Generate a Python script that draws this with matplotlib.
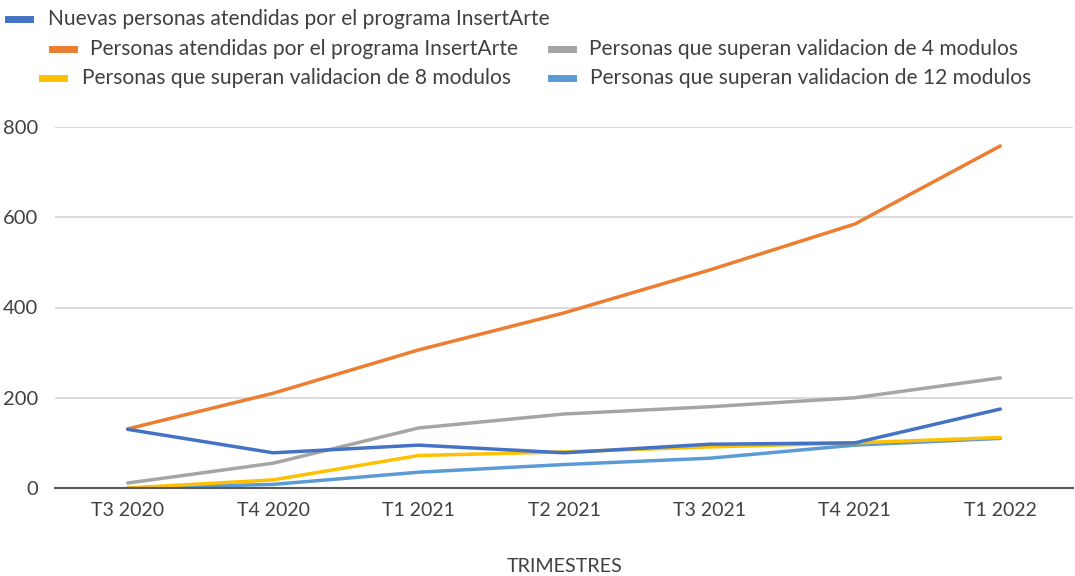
import matplotlib
matplotlib.use("Agg")
import matplotlib.pyplot as plt
from matplotlib.lines import Line2D

plt.rcParams['font.family'] = ['Lato', 'DejaVu Sans']

trimestres = ["T3 2020", "T4 2020", "T1 2021", "T2 2021", "T3 2021", "T4 2021", "T1 2022"]
nuevas = [130, 78, 95, 78, 97, 100, 175]
atendidas = [131, 210, 306, 388, 483, 585, 758]
valid_4 = [11, 55, 133, 164, 180, 200, 244]
valid_8 = [0, 18, 72, 80, 91, 100, 112]
valid_12 = [0, 8, 35, 52, 66, 95, 110]

series = [
    ("Nuevas personas atendidas por el programa InsertArte", nuevas, "#4472C4"),
    ("Personas atendidas por el programa InsertArte", atendidas, "#ED7D31"),
    ("Personas que superan validacion de 4 modulos", valid_4, "#A5A5A5"),
    ("Personas que superan validacion de 8 modulos", valid_8, "#FFC000"),
    ("Personas que superan validacion de 12 modulos", valid_12, "#5B9BD5"),
]

fig = plt.figure(figsize=(10.75, 5.76), dpi=100)
ax = fig.add_axes([55 / 1075, 1 - 488 / 576, 1018 / 1075, 361 / 576])

x = list(range(len(trimestres)))
# draw in reverse so the first series sits on top
for name, vals, col in reversed(series):
    ax.plot(x, vals, color=col, lw=2.5, solid_capstyle="round")

ax.set_xlim(-0.5, len(trimestres) - 0.5)
ax.set_ylim(0, 800)
ax.set_yticks([0, 200, 400, 600, 800])
ax.set_xticks(x)
ax.set_xticklabels(trimestres)
ax.tick_params(axis="both", length=0, labelsize=14, colors="#404040")
ax.tick_params(axis="y", labelsize=14.5, pad=12)
ax.tick_params(axis="x", pad=10)
ax.grid(axis="y", color="#d4d4d4", lw=1.2)
ax.set_axisbelow(True)
for s in ["top", "right", "left"]:
    ax.spines[s].set_visible(False)
ax.spines["bottom"].set_color("#595959")
ax.spines["bottom"].set_linewidth(1.5)

fig.text(565 / 1075, 1 - 567 / 576, "TRIMESTRES", ha="center", va="center",
         fontsize=14.2, color="#404040")

# legend laid out by hand, like the original
leg_pos = [(8, 48, 19), (52, 90, 49), (551, 589, 49), (42, 82, 78), (551, 590, 78)]
for (name, vals, col), (mx, tx, y) in zip(series, leg_pos):
    fy = 1 - y / 576
    fig.add_artist(Line2D([mx / 1075, (mx + 22) / 1075], [fy, fy], color=col,
                          lw=5, transform=fig.transFigure))
    fig.text(tx / 1075, fy, name, ha="left", va="center", fontsize=15.1,
             color="#404040")

fig.savefig("out.png", dpi=100)
